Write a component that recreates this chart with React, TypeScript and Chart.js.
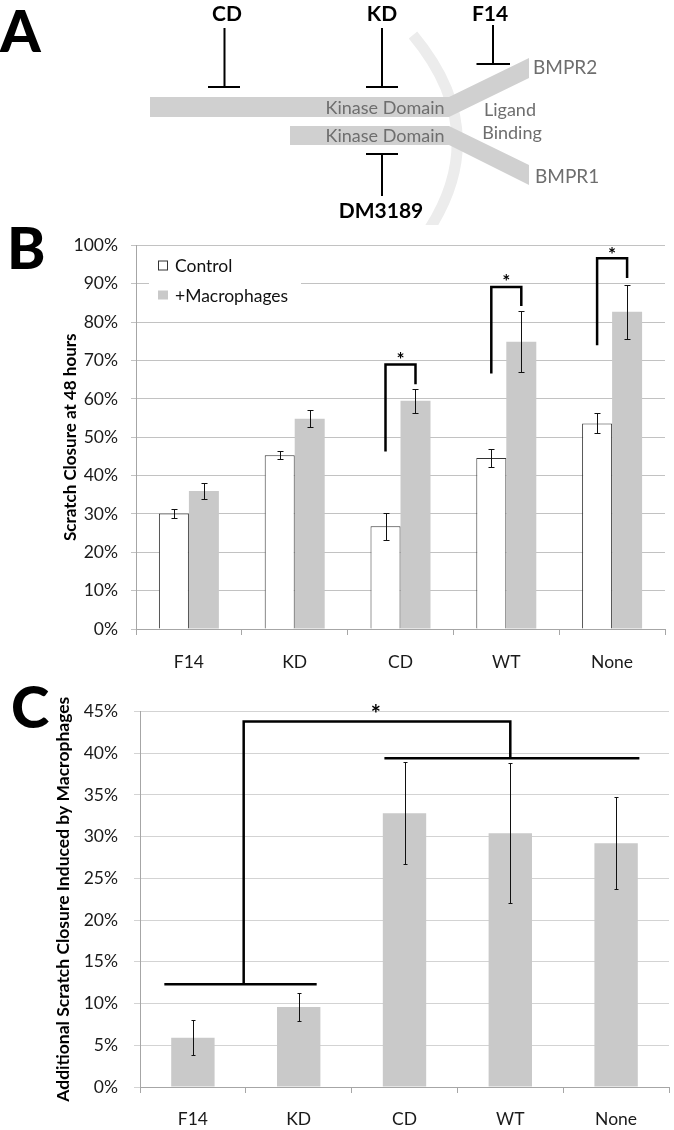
import React, { useEffect, useRef } from 'react';
import { Chart, registerables } from 'chart.js';

Chart.register(...registerables);

const FONT = 'Lato, "Open Sans", "DejaVu Sans", sans-serif';

// ---------- data ----------
const categories = ['F14', 'KD', 'CD', 'WT', 'None'];
const seriesLabels = ['Control', '+Macrophages'];
const controlValues = [30.1, 45.3, 26.8, 44.6, 53.6];
const controlErrors = [1.1, 1.1, 3.5, 2.3, 2.6];
const macrophageValues = [36.0, 54.8, 59.5, 74.9, 82.7];
const macrophageErrors = [2.0, 2.2, 3.2, 8.0, 7.0];
const additionalValues = [5.9, 9.6, 32.8, 30.4, 29.2];
const additionalErrors = [2.1, 1.7, 6.1, 8.4, 5.5];

const yTicksB = [0, 100, 10];
const yTicksC = [0, 45, 5];

// panel B significance brackets (category index, leg bottoms and top in % units)
const bracketIndex = [2, 3, 4];
const bracketLeftBottom = [46.3, 66.6, 74.0];
const bracketRightBottom = [63.8, 84.2, 91.5];
const bracketTop = [69.0, 89.2, 96.7];
const bracketStar = [71.4, 91.6, 98.8];

// panel C group comparison (category units / % units)
const lowGroupSpan = [-0.27, 1.17];
const lowGroupLevel = 12.3;
const highGroupSpan = [1.81, 4.22];
const highGroupLevel = 39.4;
const compareLegs = [0.48, 3.0];
const compareTop = 43.8;
const compareStar = [1.73, 45.4];

// panel A schematic labels
const inhibitorLabels = ['CD', 'KD', 'F14', 'DM3189'];
const domainLabel = 'Kinase Domain';
const receptorLabels = ['BMPR2', 'BMPR1'];
const ligandLabels = ['Ligand', 'Binding'];
const panelLetters = ['A', 'B', 'C'];

// ---------- helpers ----------
function drawStar(ctx: CanvasRenderingContext2D, x: number, cy: number, size: number) {
  ctx.save();
  ctx.font = `bold ${size}px ${FONT}`;
  ctx.fillStyle = '#000';
  ctx.textAlign = 'center';
  ctx.textBaseline = 'alphabetic';
  const m = ctx.measureText('*');
  const base = cy + (m.actualBoundingBoxAscent - m.actualBoundingBoxDescent) / 2;
  ctx.fillText('*', x, base);
  ctx.restore();
}

function drawLetter(ctx: CanvasRenderingContext2D, letter: string, x: number, baseline: number) {
  ctx.save();
  ctx.font = `900 58px ${FONT}`;
  ctx.fillStyle = '#000';
  ctx.textAlign = 'left';
  ctx.textBaseline = 'alphabetic';
  ctx.fillText(letter, x, baseline);
  ctx.restore();
}

const errorBarPlugin = {
  id: 'errorBars',
  afterDatasetsDraw(chart: any, _args: any, opts: any) {
    const { ctx } = chart;
    const y = chart.scales.y;
    const cap = opts.cap ?? 3;
    ctx.save();
    ctx.strokeStyle = '#111';
    ctx.lineWidth = 1;
    chart.data.datasets.forEach((ds: any, di: number) => {
      const meta = chart.getDatasetMeta(di);
      meta.data.forEach((bar: any, i: number) => {
        const v = ds.data[i];
        const e = ds.errors[i];
        const t = Math.round(y.getPixelForValue(v + e)) + 0.5;
        const b = Math.round(y.getPixelForValue(v - e)) + 0.5;
        const x = Math.round(bar.x) + 0.5;
        ctx.beginPath();
        ctx.moveTo(x, t);
        ctx.lineTo(x, b);
        ctx.moveTo(x - cap, t);
        ctx.lineTo(x + cap, t);
        ctx.moveTo(x - cap, b);
        ctx.lineTo(x + cap, b);
        ctx.stroke();
      });
    });
    ctx.restore();
  },
};

// ---------- panel A ----------
const schematicPlugin = {
  id: 'schematic',
  afterDraw(chart: any) {
    const { ctx } = chart;
    const X = (v: number) => chart.scales.x.getPixelForValue(v);
    const Y = (v: number) => chart.scales.y.getPixelForValue(v);
    ctx.save();
    // membrane arc
    ctx.strokeStyle = '#ececec';
    ctx.lineWidth = 11;
    ctx.beginPath();
    ctx.moveTo(X(413), Y(35));
    ctx.quadraticCurveTo(X(492), Y(130), X(430), Y(228));
    ctx.stroke();
    // receptor bands
    const poly = (pts: number[][]) => {
      ctx.beginPath();
      pts.forEach((p, i) => (i ? ctx.lineTo(X(p[0]), Y(p[1])) : ctx.moveTo(X(p[0]), Y(p[1]))));
      ctx.closePath();
      ctx.fill();
    };
    ctx.fillStyle = '#d0d0d0';
    poly([[150, 97], [449, 97], [529, 58], [529, 78], [449, 117], [150, 117]]);
    poly([[290, 126], [449, 126], [529, 165], [529, 185], [449, 145], [290, 145]]);

    // gray labels
    ctx.fillStyle = '#6e6e6e';
    ctx.font = `18px ${FONT}`;
    ctx.textBaseline = 'middle';
    ctx.textAlign = 'center';
    ctx.fillText(domainLabel, X(385), Y(108));
    ctx.fillText(domainLabel, X(385), Y(136));
    ctx.fillText(ligandLabels[0], X(510), Y(110));
    ctx.fillText(ligandLabels[1], X(512), Y(133));
    ctx.font = `19px ${FONT}`;
    ctx.textAlign = 'left';
    ctx.fillText(receptorLabels[0], X(533), Y(68));
    ctx.fillText(receptorLabels[1], X(535), Y(177));

    // inhibitors
    ctx.strokeStyle = '#000';
    ctx.lineWidth = 2;
    const inh = (lx: number, y1: number, y2: number, bar: number, bx1: number, bx2: number) => {
      ctx.beginPath();
      ctx.moveTo(X(lx), Y(y1));
      ctx.lineTo(X(lx), Y(y2));
      ctx.moveTo(X(bx1), Y(bar));
      ctx.lineTo(X(bx2), Y(bar));
      ctx.stroke();
    };
    inh(224.5, 28, 87, 87, 208, 240);
    inh(382, 28, 87, 87, 366, 398);
    inh(493, 25, 64, 64, 476.5, 510);
    inh(382, 154, 196, 154, 366, 398);

    ctx.fillStyle = '#000';
    ctx.font = `bold 21px ${FONT}`;
    ctx.textAlign = 'center';
    ctx.textBaseline = 'alphabetic';
    ctx.fillText(inhibitorLabels[0], X(227), Y(21));
    ctx.fillText(inhibitorLabels[1], X(382), Y(21));
    ctx.fillText(inhibitorLabels[2], X(490), Y(21));
    ctx.fillText(inhibitorLabels[3], X(381), Y(218));
    ctx.restore();
    drawLetter(ctx, panelLetters[0], 0, 52);
  },
};

// ---------- panel B ----------
const legendBPlugin = {
  id: 'legendB',
  afterDatasetsDraw(chart: any) {
    const { ctx, chartArea } = chart;
    const l = chartArea.left;
    const t = chartArea.top;
    ctx.save();
    ctx.fillStyle = '#fff';
    ctx.fillRect(l + 13, t + 4, 152, 58);
    ctx.fillStyle = '#fff';
    ctx.strokeStyle = '#333';
    ctx.lineWidth = 1;
    ctx.fillRect(l + 22, t + 15, 10, 10);
    ctx.strokeRect(l + 22.5, t + 15.5, 9, 9);
    ctx.fillStyle = '#c9c9c9';
    ctx.fillRect(l + 22, t + 45, 10, 9);
    ctx.fillStyle = '#111';
    ctx.font = `17.5px ${FONT}`;
    ctx.textAlign = 'left';
    ctx.textBaseline = 'middle';
    ctx.fillText(seriesLabels[0], l + 39, t + 21);
    ctx.fillText(seriesLabels[1], l + 39, t + 51);
    ctx.restore();
  },
};

const bracketBPlugin = {
  id: 'bracketsB',
  afterDraw(chart: any) {
    const { ctx } = chart;
    const y = chart.scales.y;
    const m0 = chart.getDatasetMeta(0);
    const m1 = chart.getDatasetMeta(1);
    ctx.save();
    ctx.strokeStyle = '#000';
    ctx.lineWidth = 2.5;
    ctx.lineJoin = 'miter';
    bracketIndex.forEach((ci, k) => {
      const xl = m0.data[ci].x;
      const xr = m1.data[ci].x;
      ctx.beginPath();
      ctx.moveTo(xl, y.getPixelForValue(bracketLeftBottom[k]));
      ctx.lineTo(xl, y.getPixelForValue(bracketTop[k]));
      ctx.lineTo(xr, y.getPixelForValue(bracketTop[k]));
      ctx.lineTo(xr, y.getPixelForValue(bracketRightBottom[k]));
      ctx.stroke();
      drawStar(ctx, (xl + xr) / 2, y.getPixelForValue(bracketStar[k]), 19);
    });
    ctx.restore();
    drawLetter(ctx, panelLetters[1], 7, 47);
  },
};

// ---------- panel C ----------
const bracketCPlugin = {
  id: 'bracketsC',
  afterDraw(chart: any) {
    const { ctx } = chart;
    const x = chart.scales.x;
    const y = chart.scales.y;
    ctx.save();
    ctx.strokeStyle = '#000';
    ctx.lineWidth = 2.5;
    ctx.beginPath();
    ctx.moveTo(x.getPixelForValue(lowGroupSpan[0]), y.getPixelForValue(lowGroupLevel));
    ctx.lineTo(x.getPixelForValue(lowGroupSpan[1]), y.getPixelForValue(lowGroupLevel));
    ctx.moveTo(x.getPixelForValue(highGroupSpan[0]), y.getPixelForValue(highGroupLevel));
    ctx.lineTo(x.getPixelForValue(highGroupSpan[1]), y.getPixelForValue(highGroupLevel));
    ctx.moveTo(x.getPixelForValue(compareLegs[0]), y.getPixelForValue(lowGroupLevel));
    ctx.lineTo(x.getPixelForValue(compareLegs[0]), y.getPixelForValue(compareTop));
    ctx.lineTo(x.getPixelForValue(compareLegs[1]), y.getPixelForValue(compareTop));
    ctx.lineTo(x.getPixelForValue(compareLegs[1]), y.getPixelForValue(highGroupLevel));
    ctx.stroke();
    ctx.restore();
    drawStar(ctx, x.getPixelForValue(compareStar[0]), y.getPixelForValue(compareStar[1]), 24);
    drawLetter(ctx, panelLetters[2], 11, 43);
  },
};

const tickFont = { family: FONT, size: 17.5 };

export default function App() {
  const aRef = useRef<HTMLCanvasElement>(null);
  const bRef = useRef<HTMLCanvasElement>(null);
  const cRef = useRef<HTMLCanvasElement>(null);

  useEffect(() => {
    document.body.style.margin = '0';
    const chartA = new Chart(aRef.current as HTMLCanvasElement, {
      type: 'scatter',
      data: { datasets: [] },
      options: {
        animation: false,
        responsive: false,
        layout: { padding: 0 },
        plugins: { legend: { display: false }, tooltip: { enabled: false } },
        scales: {
          x: { type: 'linear', min: 0, max: 674, display: false },
          y: { type: 'linear', min: 0, max: 225, reverse: true, display: false },
        },
      },
      plugins: [schematicPlugin],
    } as any);

    const chartB = new Chart(bRef.current as HTMLCanvasElement, {
      type: 'bar',
      data: {
        labels: categories,
        datasets: [
          {
            label: seriesLabels[0],
            data: controlValues,
            errors: controlErrors,
            backgroundColor: '#ffffff',
            borderColor: '#333333',
            borderWidth: 1,
          },
          {
            label: seriesLabels[1],
            data: macrophageValues,
            errors: macrophageErrors,
            backgroundColor: '#c9c9c9',
            borderWidth: 0,
          },
        ],
      },
      options: {
        animation: false,
        responsive: false,
        layout: { padding: { top: 13, right: 9, left: 0, bottom: 0 } },
        datasets: { bar: { categoryPercentage: 0.567, barPercentage: 1 } },
        plugins: { legend: { display: false }, tooltip: { enabled: false }, errorBars: { cap: 3 } },
        scales: {
          x: {
            grid: { drawOnChartArea: false, drawTicks: true, tickLength: 6, offset: true, color: '#a6a6a6' },
            border: { color: '#a6a6a6' },
            ticks: { color: '#1a1a1a', font: tickFont, padding: 17 },
            afterFit: (s: any) => { s.height = 56; },
          },
          y: {
            min: yTicksB[0],
            max: yTicksB[1],
            ticks: { stepSize: yTicksB[2], callback: (v: any) => `${v}%`, color: '#1a1a1a', font: tickFont, padding: 13 },
            grid: { color: '#c2c2c2', tickLength: 5 },
            border: { color: '#a6a6a6' },
            title: {
              display: true,
              text: 'Scratch Closure at 48 hours',
              color: '#000',
              font: { family: FONT, size: 17, weight: 'bold' },
              padding: { top: 60, bottom: 0 },
            },
            afterFit: (s: any) => { s.width = 136; },
          },
        },
      },
      plugins: [errorBarPlugin, legendBPlugin, bracketBPlugin],
    } as any);

    const chartC = new Chart(cRef.current as HTMLCanvasElement, {
      type: 'bar',
      data: {
        labels: categories,
        datasets: [
          {
            label: 'Additional closure',
            data: additionalValues,
            errors: additionalErrors,
            backgroundColor: '#c9c9c9',
            borderWidth: 0,
          },
        ],
      },
      options: {
        animation: false,
        responsive: false,
        layout: { padding: { top: 14, right: 5, left: 0, bottom: 0 } },
        datasets: { bar: { categoryPercentage: 0.41, barPercentage: 1 } },
        plugins: { legend: { display: false }, tooltip: { enabled: false }, errorBars: { cap: 2 } },
        scales: {
          x: {
            grid: { drawOnChartArea: false, drawTicks: true, tickLength: 6, offset: true, color: '#a6a6a6' },
            border: { color: '#a6a6a6' },
            ticks: { color: '#1a1a1a', font: tickFont, padding: 16 },
            afterFit: (s: any) => { s.height = 43; },
          },
          y: {
            min: yTicksC[0],
            max: yTicksC[1],
            ticks: { stepSize: yTicksC[2], callback: (v: any) => `${v}%`, color: '#1a1a1a', font: tickFont, padding: 16 },
            grid: { color: '#d3d3d3', tickLength: 6 },
            border: { color: '#a6a6a6' },
            title: {
              display: true,
              text: 'Additional Scratch Closure Induced by Macrophages',
              color: '#000',
              font: { family: FONT, size: 17.5, weight: 'bold' },
              padding: { top: 53, bottom: 0 },
            },
            afterFit: (s: any) => { s.width = 140; },
          },
        },
      },
      plugins: [errorBarPlugin, bracketCPlugin],
    } as any);

    return () => {
      chartA.destroy();
      chartB.destroy();
      chartC.destroy();
    };
  }, []);

  return (
    <div style={{ position: 'absolute', left: 0, top: 0, width: 674, height: 1130, background: '#fff' }}>
      <canvas ref={aRef} width={674} height={225} style={{ position: 'absolute', left: 0, top: 0 }} />
      <canvas ref={bRef} width={674} height={463} style={{ position: 'absolute', left: 0, top: 222 }} />
      <canvas ref={cRef} width={674} height={445} style={{ position: 'absolute', left: 0, top: 685 }} />
    </div>
  );
}
